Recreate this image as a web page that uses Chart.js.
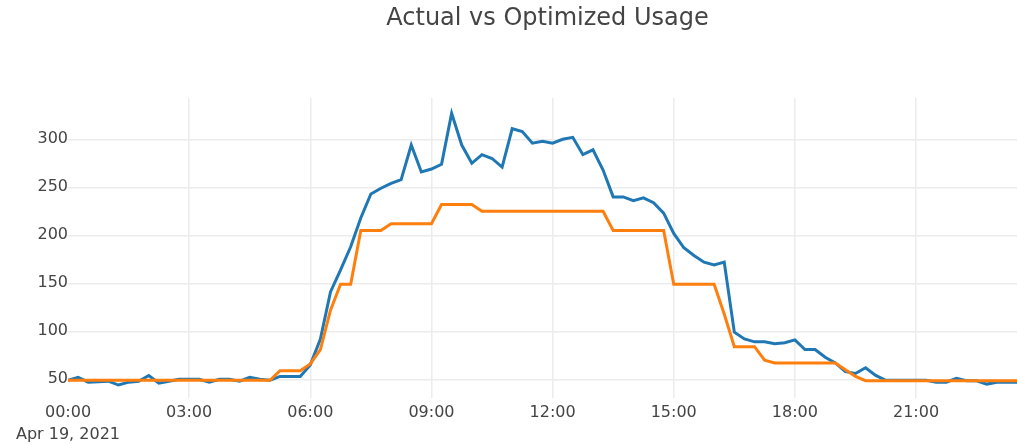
<!DOCTYPE html>
<html><head><meta charset="utf-8">
<script src="https://cdn.jsdelivr.net/npm/chart.js@4/dist/chart.umd.min.js"></script>
<style>html,body{margin:0;padding:0;background:#fff;}#wrap{width:1017px;height:445px;}</style>
</head><body><div id="wrap"><canvas id="c" width="1017" height="445"></canvas></div>
<script>
const times = ["00:00","00:15","00:30","00:45","01:00","01:15","01:30","01:45","02:00","02:15","02:30","02:45",
"03:00","03:15","03:30","03:45","04:00","04:15","04:30","04:45","05:00","05:15","05:30","05:45",
"06:00","06:15","06:30","06:45","07:00","07:15","07:30","07:45","08:00","08:15","08:30","08:45",
"09:00","09:15","09:30","09:45","10:00","10:15","10:30","10:45","11:00","11:15","11:30","11:45",
"12:00","12:15","12:30","12:45","13:00","13:15","13:30","13:45","14:00","14:15","14:30","14:45",
"15:00","15:15","15:30","15:45","16:00","16:15","16:30","16:45","17:00","17:15","17:30","17:45",
"18:00","18:15","18:30","18:45","19:00","19:15","19:30","19:45","20:00","20:15","20:30","20:45",
"21:00","21:15","21:30","21:45","22:00","22:15","22:30","22:45","23:00","23:15","23:30"];
const actual = [49,52,47,47.5,48,44,47,48,54,46,48,50,
50,50,47,50,50,48,52,50,49,53,53,53,
65,92,141,164,188,218,243,249,254,258,294,266,
269,274,327,294,275,284,280,271,311,308,296,298,
296,300,302,284,289,268,240,240,236,239,234,223,
202,187,179,172,169,172,99,92,89,89,87,88,
91,81,81,73,67,58,56,62,54,49,49,49,
49,49,47,47,51,48.5,48.5,45,47,47,47];
const optimized = [49,49,49,49,49,49,49,49,49,49,49,49,
49,49,49,49,49,49,49,49,49,59,59,59,
66,81,122,149,149,205,205,205,212,212,212,212,
212,232,232,232,232,225,225,225,225,225,225,225,
225,225,225,225,225,225,205,205,205,205,205,205,
149,149,149,149,149,118,84,84,84,70,67,67,
67,67,67,67,67,60,53,48.5,48.5,48.5,48.5,48.5,
48.5,48.5,48.5,48.5,48.5,48.5,48.5,48.5,48.5,48.5,48.5];
const xTickLabels = ["00:00","03:00","06:00","09:00","12:00","15:00","18:00","21:00"];
const yTickValues = [50,100,150,200,250,300];
const dateLabel = "Apr 19, 2021";
const titleText = "Actual vs Optimized Usage";

const toMin = t => { const p = t.split(':'); return (+p[0]) * 60 + (+p[1]); };
const fmt = m => String(Math.floor(m / 60)).padStart(2, '0') + ':' + String(m % 60).padStart(2, '0');

Chart.defaults.font.family = "'DejaVu Sans', Verdana, sans-serif";
Chart.defaults.color = '#444';

const shiftTitle = {
  id: 'shiftTitle',
  afterLayout(chart) { const t = chart.titleBlock; if (t) { t.left += 39; t.right += 39; } }
};

new Chart(document.getElementById('c'), {
  type: 'line',
  data: {
    datasets: [
      { label: 'Actual', data: times.map((t, i) => ({ x: toMin(t), y: actual[i] })),
        borderColor: '#1f77b4', backgroundColor: '#1f77b4', borderWidth: 3, pointRadius: 0, tension: 0, order: 1 },
      { label: 'Optimized', data: times.map((t, i) => ({ x: toMin(t), y: optimized[i] })),
        borderColor: '#ff7f0e', backgroundColor: '#ff7f0e', borderWidth: 3, pointRadius: 0, tension: 0, order: 0 }
    ]
  },
  options: {
    responsive: false,
    animation: false,
    layout: { padding: 0 },
    plugins: {
      legend: { display: false },
      tooltip: { enabled: false },
      title: { display: true, text: titleText, color: '#444',
        font: { size: 24, weight: 'normal' }, padding: { top: 4.6, bottom: 64.6 } }
    },
    scales: {
      x: {
        type: 'linear', min: 0, max: 1410,
        border: { display: false },
        grid: { drawTicks: false, lineWidth: 1.5,
          color: c => (c.tick && c.tick.value === 0) ? 'rgba(0,0,0,0)' : '#ececec' },
        afterBuildTicks: s => { s.ticks = xTickLabels.map(l => ({ value: toMin(l) })); },
        ticks: { maxRotation: 0, autoSkip: false, padding: 4,
          font: { size: 16, lineHeight: 1.375 }, color: '#444',
          callback: v => v === 0 ? [fmt(v), dateLabel] : fmt(v) },
        afterFit: s => { s.height = 47; }
      },
      y: {
        min: 30.5, max: 343,
        border: { display: false },
        grid: { drawTicks: false, lineWidth: 1.5, color: '#ececec' },
        afterBuildTicks: s => { s.ticks = yTickValues.map(v => ({ value: v })); },
        ticks: { padding: 0, font: { size: 16 }, color: '#444' },
        afterFit: s => { s.width = 68; }
      }
    }
  },
  plugins: [shiftTitle]
});
</script></body></html>
